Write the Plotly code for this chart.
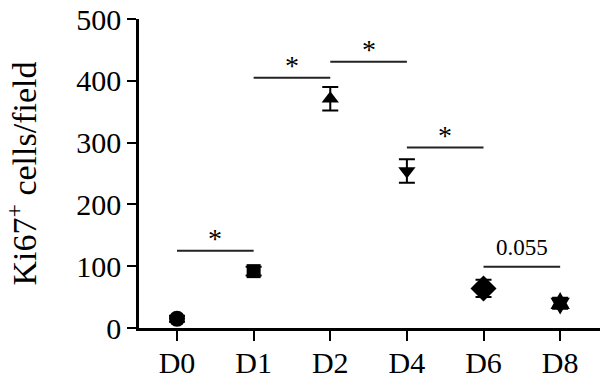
import plotly.graph_objects as go

categories = ["D0", "D1", "D2", "D4", "D6", "D8"]
means = [15, 92, 371, 254, 64, 40]
errors = [5, 7, 19, 19, 14, 9]
symbols = ["circle", "square", "triangle-up", "triangle-down", "diamond", "hexagram"]
marker_sizes = [16, 14, 15, 15, 20, 17]

# significance brackets: (from category index, to category index, height, label)
bracket_from = [0, 1, 2, 3, 4]
bracket_to = [1, 2, 3, 4, 5]
bracket_y = [125, 405, 431, 292, 99]
bracket_labels = ["*", "*", "*", "*", "0.055"]

FONT = "Liberation Serif"
xpos = list(range(len(categories)))

fig = go.Figure()
for i, c in enumerate(categories):
    fig.add_trace(go.Scatter(
        x=[xpos[i]], y=[means[i]], mode="markers", name=c,
        marker=dict(symbol=symbols[i], size=marker_sizes[i], color="black"),
        error_y=dict(type="data", array=[errors[i]], visible=True,
                     color="black", thickness=2, width=8),
        showlegend=False,
    ))

for a, b, h, lab in zip(bracket_from, bracket_to, bracket_y, bracket_labels):
    fig.add_shape(type="line", xref="x", yref="y", x0=xpos[a], x1=xpos[b],
                  y0=h, y1=h, line=dict(color="#222", width=2))
    star = lab == "*"
    fig.add_annotation(x=(xpos[a] + xpos[b]) / 2, y=h, xref="x", yref="y",
                       text=lab, showarrow=False, yanchor="bottom",
                       yshift=-5 if star else 5,
                       font=dict(family=FONT, size=28 if star else 23, color="black"))

fig.update_layout(
    width=600, height=386,
    margin=dict(l=139, r=0, t=19, b=58),
    paper_bgcolor="white", plot_bgcolor="white",
    font=dict(family=FONT, color="black"),
)
fig.update_xaxes(
    range=[-0.496, 5.52], tickvals=xpos, ticktext=categories,
    showline=True, linecolor="black", linewidth=2.5,
    ticks="outside", ticklen=10, tickwidth=2, tickcolor="black",
    showgrid=False, zeroline=False, automargin=False,
    ticklabelstandoff=-4,
    tickfont=dict(family=FONT, size=30),
)
fig.update_yaxes(
    range=[0, 500], tickvals=[0, 100, 200, 300, 400, 500],
    showline=True, linecolor="black", linewidth=2.5,
    ticks="outside", ticklen=9, tickwidth=2, tickcolor="black",
    showgrid=False, zeroline=False, automargin=False,
    tickfont=dict(family=FONT, size=30),
    title=dict(text="Ki67<sup>+</sup> cells/field", standoff=30,
               font=dict(family=FONT, size=34)),
)

fig.write_html("out.html", post_script="document.body.style.margin='0';",
               config={"displayModeBar": False})
